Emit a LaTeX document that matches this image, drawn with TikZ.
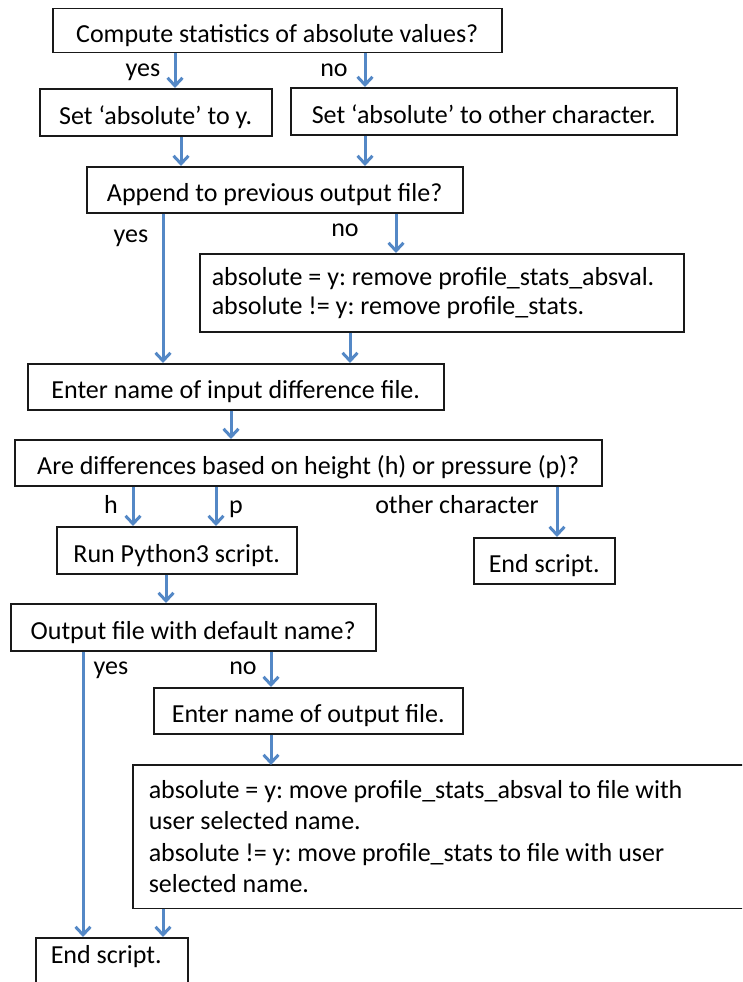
\documentclass[tikz,border=0pt]{standalone}
\usepackage{fontspec}
\setmainfont{Carlito}
\usetikzlibrary{arrows.meta}

\tikzset{>={Straight Barb[length=8pt,width=15pt]}}
\definecolor{flowblue}{RGB}{84,136,198}
\tikzstyle{boxline}=[draw=black!90,line width=1.5pt]
\tikzstyle{box}=[boxline,anchor=north west,inner xsep=15pt,inner ysep=0pt,
  font=\fontsize{26}{29}\selectfont\frenchspacing]
\tikzstyle{oneline}=[text height=28pt,text depth=4pt]
\tikzstyle{flow}=[->,draw=flowblue,line width=3pt]
\tikzstyle{lbl}=[anchor=base,inner sep=0pt,font=\fontsize{26}{29}\selectfont]

\begin{document}
\begin{tikzpicture}[x=1pt,y=-1pt]
  \useasboundingbox (0,0) rectangle (742,982);
  \clip (0,0) rectangle (742,982);

  % BOXES
  \node[box,oneline,minimum width=449pt,minimum height=44pt] (q1) at (52,8)
    {Compute statistics of absolute values?};
  \node[box,oneline,minimum width=232pt,minimum height=47pt] (s1) at (39,88)
    {Set ‘absolute’ to y.};
  \node[box,oneline,minimum width=386pt,minimum height=47pt] (s2) at (290,87)
    {Set ‘absolute’ to other character.};
  \node[box,oneline,minimum width=376pt,minimum height=46pt] (q2) at (86,166)
    {Append to previous output file?};
  \node[box,text width=460pt,inner xsep=12pt,align=flush left,minimum height=78pt] (rm) at (199,253)
    {absolute = y: remove profile\_stats\_absval.\\
     absolute != y: remove profile\_stats.};
  \node[box,oneline,minimum width=416pt,minimum height=46pt] (in) at (27,363)
    {Enter name of input difference file.};
  \node[box,oneline,minimum width=587pt,minimum height=46pt] (q3) at (14,439)
    {Are differences based on height (h) or pressure (p)?};
  \node[box,oneline,minimum width=240pt,minimum height=47pt] (py) at (56,526)
    {Run Python3 script.};
  \node[box,oneline,minimum width=141pt,minimum height=46pt] (e1) at (473,537)
    {End script.};
  \node[box,oneline,minimum width=365pt,minimum height=47pt] (q4) at (10,603)
    {Output file with default name?};
  \node[box,oneline,minimum width=309pt,minimum height=46pt] (out) at (153,687)
    {Enter name of output file.};
  \node[box,draw=none,text width=660pt,align=flush left,minimum height=142pt,
    font=\fontsize{26}{31.5}\selectfont\frenchspacing] (mv) at (133,765)
    {absolute = y: move profile\_stats\_absval to file with\\
     user selected name.\\
     absolute != y: move profile\_stats to file with user\\
     selected name.};
  % box runs off the right edge
  \draw[boxline] (mv.north east) -- (mv.north west) -- (mv.south west) -- (mv.south east);
  \node[box,text width=122pt,align=flush left,text height=26pt,text depth=30pt] (e2) at (35,937)
    {End script.};

  % ARROWS
  \draw[flow] (175,0 |- q1.south) -- (175,0 |- s1.north);
  \draw[flow] (365,0 |- q1.south) -- (365,0 |- s2.north);
  \draw[flow] (181,0 |- s1.south) -- (181,0 |- q2.north);
  \draw[flow] (365,0 |- s2.south) -- (365,0 |- q2.north);
  \draw[flow] (163,0 |- q2.south) -- (163,0 |- in.north);
  \draw[flow] (396,0 |- q2.south) -- (396,0 |- rm.north);
  \draw[flow] (350,0 |- rm.south) -- (350,0 |- in.north);
  \draw[flow] (231,0 |- in.south) -- (231,0 |- q3.north);
  \draw[flow] (133,0 |- q3.south) -- (133,0 |- py.north);
  \draw[flow] (216,0 |- q3.south) -- (216,0 |- py.north);
  \draw[flow] (557,0 |- q3.south) -- (557,0 |- e1.north);
  \draw[flow] (166,0 |- py.south) -- (166,0 |- q4.north);
  \draw[flow] (83,0 |- q4.south) -- (83,0 |- e2.north);
  \draw[flow] (271,0 |- q4.south) -- (271,0 |- out.north);
  \draw[flow] (271,0 |- out.south) -- (271,0 |- mv.north);
  \draw[flow] (163,0 |- mv.south) -- (163,0 |- e2.north);

  % LABELS
  \node[lbl] (yes1) at (143,76) {yes};
  \node[lbl] (no1) at (334,76) {no};
  \node[lbl] (yes2) at (131,242) {yes};
  \node[lbl] (no2) at (345,236) {no};
  \node[lbl] (h) at (111,513) {h};
  \node[lbl] (p) at (236,513) {p};
  \node[lbl] (other) at (457,513) {other character};
  \node[lbl] (yes3) at (111,674) {yes};
  \node[lbl] (no3) at (243,674) {no};
\end{tikzpicture}
\end{document}
